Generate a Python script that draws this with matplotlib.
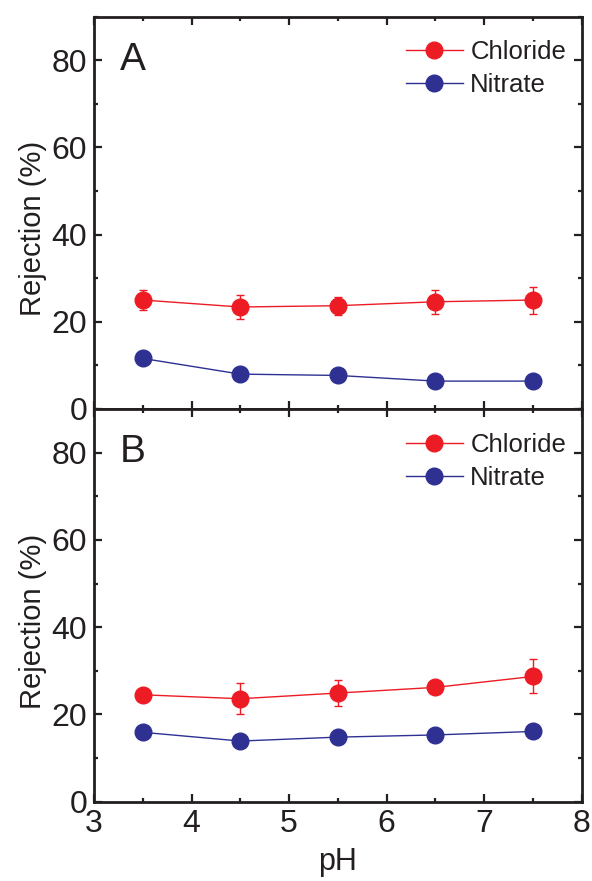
import matplotlib
matplotlib.use("Agg")
import matplotlib.pyplot as plt
from matplotlib.ticker import MultipleLocator

plt.rcParams['font.family'] = ['Liberation Sans', 'DejaVu Sans']

ph = [3.5, 4.5, 5.5, 6.5, 7.5]

# Panel A
a_chloride = [25.0, 23.4, 23.7, 24.6, 25.0]
a_chloride_err = [2.3, 2.8, 2.1, 2.8, 3.1]
a_nitrate = [11.6, 8.0, 7.7, 6.4, 6.4]

# Panel B
b_chloride = [24.5, 23.6, 24.9, 26.2, 28.7]
b_chloride_err = [0.8, 3.6, 2.9, 0.8, 3.9]
b_nitrate = [15.9, 13.9, 14.8, 15.3, 16.1]

panel_labels = ["A", "B"]
series_names = ["Chloride", "Nitrate"]
x_ticks = [3, 4, 5, 6, 7, 8]
y_ticks = [0, 20, 40, 60, 80]

RED = "#ED1C24"
BLUE = "#2E3192"
TXT = "#231F20"

fig = plt.figure(figsize=(5.92, 8.81), dpi=100)
left, width = 94 / 592, (581.7 - 94) / 592
mid = (881 - 409) / 881
top = (881 - 16.7) / 881
bot = (881 - 801.7) / 881
ax_a = fig.add_axes([left, mid, width, top - mid])
ax_b = fig.add_axes([left, bot, width, mid - bot])

data = [(ax_a, a_chloride, a_chloride_err, a_nitrate),
        (ax_b, b_chloride, b_chloride_err, b_nitrate)]

for i, (ax, cl, cl_err, ni) in enumerate(data):
    eb = ax.errorbar(ph, cl, yerr=cl_err, color=RED, marker='o', markersize=12,
                     lw=1.0, elinewidth=1.0, capsize=3, capthick=1.0, zorder=3)
    ln, = ax.plot(ph, ni, color=BLUE, marker='o', markersize=12, lw=1.0,
                  zorder=3)
    ax.set_xlim(3, 8)
    ax.set_ylim(0, 90)
    ax.set_xticks(x_ticks)
    ax.set_yticks(y_ticks)
    ax.xaxis.set_minor_locator(MultipleLocator(0.5))
    ax.yaxis.set_minor_locator(MultipleLocator(10))
    ax.tick_params(which='both', direction='in', top=True, right=True,
                   width=1.6, colors=TXT, labelsize=23, pad=5)
    ax.tick_params(which='major', length=5.5)
    ax.tick_params(which='minor', length=3)
    for s in ax.spines.values():
        s.set_linewidth(2.0)
        s.set_color(TXT)
    ax.set_ylabel("Rejection (%)", fontsize=21, color=TXT)
    ax.yaxis.set_label_coords(-0.097, 0.46)
    ax.text(0.053, 0.864, panel_labels[i], transform=ax.transAxes,
            fontsize=28, color=TXT, va='baseline', ha='left')
    leg = ax.legend([eb[0], ln], series_names, loc='upper left',
                    bbox_to_anchor=(0.64, 0.94),
                    frameon=False, fontsize=18.5, handlelength=2.2,
                    handletextpad=0.3, labelspacing=0.35, borderpad=0,
                    borderaxespad=0, numpoints=1)
    for t in leg.get_texts():
        t.set_color(TXT)

ax_a.tick_params(labelbottom=False)
ax_b.set_xlabel("pH", fontsize=22, color=TXT, labelpad=6)

fig.savefig("out.png", dpi=100)
